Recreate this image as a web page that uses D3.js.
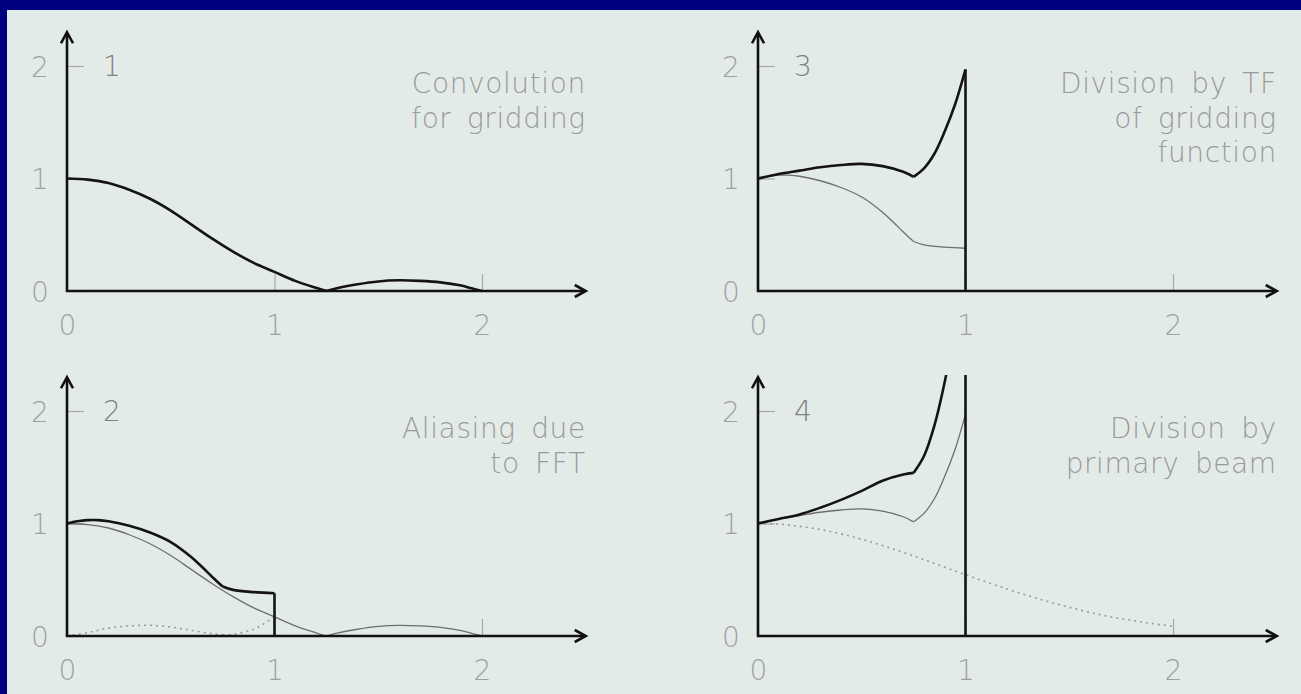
<!DOCTYPE html>
<html>
<head>
<meta charset="utf-8">
<script src="https://cdn.jsdelivr.net/npm/d3@7"></script>
<style>
  html, body { margin: 0; padding: 0; background: #000080; }
  svg { display: block; }
</style>
</head>
<body>
<svg id="chart" width="1301" height="694"></svg>
<script>
// ---------------- DATA ----------------
// Gridding convolution function (panel 1; thin in panel 2)
const convX = [0, 0.1, 0.2, 0.3, 0.4, 0.5, 0.6, 0.7, 0.8, 0.9, 1.0, 1.1, 1.2, 1.25, 1.3, 1.4, 1.5, 1.6, 1.7, 1.8, 1.9, 1.95, 2.0];
const convY = [1.0, 0.99, 0.96, 0.9, 0.82, 0.715, 0.59, 0.465, 0.35, 0.25, 0.17, 0.09, 0.028, 0.0, 0.025, 0.06, 0.085, 0.095, 0.09, 0.077, 0.048, 0.024, 0.0];
const convKinks = [1.25];

// Aliased response (thick in panel 2; thin in panel 3)
const aliasX = [0, 0.05, 0.1, 0.15, 0.2, 0.3, 0.4, 0.5, 0.6, 0.65, 0.7, 0.75, 0.8, 0.9, 1.0];
const aliasY = [1.0, 1.02, 1.03, 1.03, 1.02, 0.98, 0.92, 0.835, 0.7, 0.615, 0.525, 0.44, 0.41, 0.39, 0.38];
const aliasKinks = [0.75];

// Aliasing contribution (dotted in panel 2)
const aliasTermX = [0, 0.1, 0.2, 0.3, 0.4, 0.5, 0.6, 0.7, 0.75, 0.8, 0.9, 0.95, 1.0];
const aliasTermY = [0, 0.03, 0.07, 0.09, 0.095, 0.08, 0.05, 0.02, 0.01, 0.015, 0.06, 0.11, 0.17];
const aliasTermKinks = [0.75];

// After division by TF of gridding function (thick in panel 3; thin in panel 4)
const gridCorrX = [0, 0.1, 0.2, 0.3, 0.4, 0.5, 0.6, 0.7, 0.75, 0.8, 0.85, 0.9, 0.95, 1.0];
const gridCorrY = [1.0, 1.04, 1.07, 1.1, 1.12, 1.13, 1.11, 1.06, 1.015, 1.09, 1.22, 1.42, 1.66, 1.97];
const gridCorrKinks = [0.75];

// Primary beam (dotted in panel 4)
const beamX = [0, 0.1, 0.2, 0.3, 0.4, 0.5, 0.6, 0.7, 0.8, 0.9, 1.0, 1.1, 1.2, 1.3, 1.4, 1.5, 1.6, 1.7, 1.8, 1.9, 2.0];
const beamY = [1.0, 0.995, 0.975, 0.947, 0.908, 0.86, 0.804, 0.743, 0.678, 0.611, 0.545, 0.48, 0.418, 0.36, 0.305, 0.255, 0.21, 0.17, 0.14, 0.11, 0.088];

// After division by primary beam (thick in panel 4)
const pbCorrX = [0, 0.1, 0.2, 0.3, 0.4, 0.5, 0.6, 0.7, 0.75, 0.8, 0.85, 0.9, 0.95, 1.0];
const pbCorrY = [1.0, 1.04, 1.08, 1.14, 1.21, 1.29, 1.38, 1.435, 1.45, 1.6, 1.87, 2.26, 2.75, 3.6];
const pbCorrKinks = [0.75];

// Cut-off of the grid (vertical drop)
const cutoffX = 1.0;

// Axis ticks
const xTickValues = [0, 1, 2];
const yTickValues = [0, 1, 2];

// Panel labels & captions
const panelNumbers = ["1", "3", "2", "4"];
const caption1 = ["Convolution", "for gridding"];
const caption3 = ["Division by TF", "of gridding", "function"];
const caption2 = ["Aliasing due", "to FFT"];
const caption4 = ["Division by", "primary beam"];

// ---------------- LAYOUT ----------------
const W = 1301, H = 694;
const X_MAX = 2.5, Y_MAX = 2.3, Y_CLIP = 2.32;
const X_UNIT = 207.5, Y_UNIT = 112.5;
const FONT = "'DejaVu Sans', 'Liberation Sans', sans-serif";

const svg = d3.select("#chart");
svg.append("rect").attr("x", 0).attr("y", 0).attr("width", W).attr("height", H).attr("fill", "#000080");
svg.append("rect").attr("x", 7).attr("y", 10).attr("width", W - 7).attr("height", H - 10).attr("fill", "#e3ebe8");

function pts(xs, ys) { return xs.map((x, i) => ({ x: x, y: ys[i] })); }
function split(data, kinks) {
  const pieces = [];
  let cur = [];
  data.forEach(d => {
    cur.push(d);
    if (kinks.includes(d.x)) { pieces.push(cur); cur = [d]; }
  });
  if (cur.length > 1) pieces.push(cur);
  return pieces;
}

const conv = pts(convX, convY);
const alias = pts(aliasX, aliasY);
const aliasTerm = pts(aliasTermX, aliasTermY);
const gridCorr = pts(gridCorrX, gridCorrY);
const beam = pts(beamX, beamY);
const pbCorr = pts(pbCorrX, pbCorrY);

const STY = {
  thick: { stroke: "#141414", width: 2.6, dash: null },
  thin: { stroke: "#6e6e6e", width: 1.3, dash: null },
  dotted: { stroke: "#9a9a9a", width: 1.6, dash: "2,4" }
};

const panels = [
  { num: panelNumbers[0], x0: 67, y0: 291, caption: caption1, capY: 93,
    series: [{ data: conv, kinks: convKinks, style: "thick" }], drop: null },
  { num: panelNumbers[1], x0: 758, y0: 291, caption: caption3, capY: 93,
    series: [{ data: alias, kinks: aliasKinks, style: "thin" },
             { data: gridCorr, kinks: gridCorrKinks, style: "thick" }], drop: gridCorr },
  { num: panelNumbers[2], x0: 67, y0: 636, caption: caption2, capY: 438,
    series: [{ data: aliasTerm, kinks: aliasTermKinks, style: "dotted" },
             { data: conv, kinks: convKinks, style: "thin" },
             { data: alias, kinks: aliasKinks, style: "thick" }], drop: alias },
  { num: panelNumbers[3], x0: 758, y0: 636, caption: caption4, capY: 438,
    series: [{ data: beam, kinks: [], style: "dotted" },
             { data: gridCorr, kinks: gridCorrKinks, style: "thin" },
             { data: pbCorr, kinks: pbCorrKinks, style: "thick" }], drop: pbCorr }
];

panels.forEach((p, pi) => {
  const x = d3.scaleLinear().domain([0, X_MAX]).range([p.x0, p.x0 + X_MAX * X_UNIT]);
  const y = d3.scaleLinear().domain([0, Y_MAX]).range([p.y0, p.y0 - Y_MAX * Y_UNIT]);
  const g = svg.append("g");

  // clip for curves
  const clipId = "clip" + pi;
  svg.append("clipPath").attr("id", clipId).append("rect")
    .attr("x", x(0) - 5).attr("y", y(Y_CLIP))
    .attr("width", x(X_MAX) - x(0) + 10).attr("height", y(0) - y(Y_CLIP) + 5);

  // y ticks (pointing right) with labels on the left
  const yAx = g.append("g").attr("transform", `translate(${x(0)},0)`)
    .call(d3.axisRight(y).tickValues(yTickValues).tickSize(17).tickFormat(d3.format("d")));
  yAx.select(".domain").remove();
  yAx.selectAll(".tick line").attr("stroke", "#a8a8a8").attr("stroke-width", 1.2);
  yAx.selectAll(".tick text").attr("x", -27).attr("dy", "0.36em").attr("text-anchor", "middle")
    .attr("fill", "#a0a0a0").style("font-family", FONT).style("font-weight", 200).style("font-size", "28px");

  // x ticks (pointing up) with labels below
  const xAx = g.append("g").attr("transform", `translate(0,${y(0)})`)
    .call(d3.axisTop(x).tickValues(xTickValues).tickSize(17).tickFormat(d3.format("d")));
  xAx.select(".domain").remove();
  xAx.selectAll(".tick line").attr("stroke", "#a8a8a8").attr("stroke-width", 1.2);
  xAx.selectAll(".tick text").attr("y", 44).attr("dy", "0").attr("text-anchor", "middle")
    .attr("fill", "#a0a0a0").style("font-family", FONT).style("font-weight", 200).style("font-size", "28px");

  // panel number
  g.append("text").attr("x", x(0) + 45).attr("y", y(2) + 10).attr("text-anchor", "middle")
    .attr("fill", "#808080").style("font-family", FONT).style("font-weight", 300).style("font-size", "28px")
    .text(p.num);

  // caption
  const cap = g.append("text").attr("text-anchor", "end").attr("fill", "#9a9a9a")
    .style("font-family", FONT).style("font-weight", 200).style("font-size", "28px")
    .style("letter-spacing", "0.6px").style("word-spacing", "6px");
  p.caption.forEach((line, i) => {
    cap.append("tspan").attr("x", x(X_MAX)).attr("y", p.capY + i * 34.5).text(line);
  });

  // curves
  const line = d3.line().x(d => x(d.x)).y(d => y(d.y)).curve(d3.curveCatmullRom.alpha(0.5));
  const cg = g.append("g").attr("clip-path", `url(#${clipId})`);
  p.series.forEach(s => {
    const st = STY[s.style];
    split(s.data, s.kinks).forEach(piece => {
      cg.append("path").attr("d", line(piece)).attr("fill", "none")
        .attr("stroke", st.stroke).attr("stroke-width", st.width)
        .attr("stroke-dasharray", st.dash).attr("stroke-linejoin", "round");
    });
  });
  if (p.drop) {
    const last = p.drop.find(d => d.x === cutoffX);
    cg.append("path")
      .attr("d", d3.line().x(d => x(d.x)).y(d => y(d.y))([{ x: cutoffX, y: last.y }, { x: cutoffX, y: 0 }]))
      .attr("fill", "none").attr("stroke", STY.thick.stroke).attr("stroke-width", STY.thick.width);
  }

  // axes with arrow heads
  const ax = g.append("g").attr("stroke", "#111").attr("stroke-width", 2.6).attr("fill", "none");
  ax.append("line").attr("x1", x(0)).attr("y1", y(0) + 1).attr("x2", x(0)).attr("y2", y(Y_MAX) + 1);
  ax.append("line").attr("x1", x(0) - 1).attr("y1", y(0)).attr("x2", x(X_MAX) - 1).attr("y2", y(0));
  ax.append("path").attr("stroke-linejoin", "miter")
    .attr("d", `M${x(0) - 6},${y(Y_MAX) + 11} L${x(0)},${y(Y_MAX)} L${x(0) + 6},${y(Y_MAX) + 11}`);
  ax.append("path").attr("stroke-linejoin", "miter")
    .attr("d", `M${x(X_MAX) - 11},${y(0) - 6} L${x(X_MAX)},${y(0)} L${x(X_MAX) - 11},${y(0) + 6}`);
});
</script>
</body>
</html>
